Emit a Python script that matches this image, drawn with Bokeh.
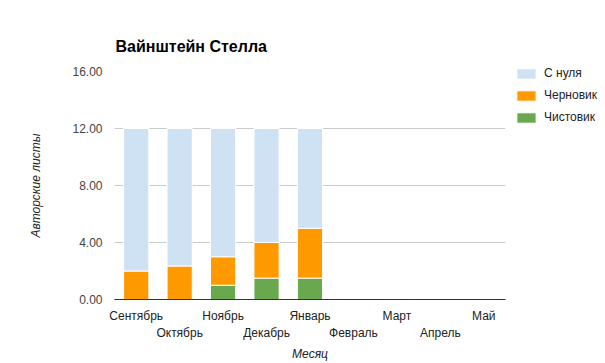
from bokeh.plotting import figure
from bokeh.models import (FactorRange, Range1d, FixedTicker, NumeralTickFormatter,
                          CategoricalAxis, Legend, LegendItem, CustomJSTickFormatter,
                          ColumnDataSource)
from bokeh.embed import file_html
from bokeh.resources import INLINE

months = ["Сентябрь", "Октябрь", "Ноябрь", "Декабрь", "Январь",
          "Февраль", "Март", "Апрель", "Май"]
chistovik = [0, 0, 1, 1.5, 1.5, 0, 0, 0, 0]
chernovik = [2, 2.35, 2, 2.5, 3.5, 0, 0, 0, 0]
s_nulya = [10, 9.65, 9, 8, 7, 0, 0, 0, 0]
series_names = ["Чистовик", "Черновик", "С нуля"]
colors = ["#6aa84f", "#ff9900", "#cfe2f3"]
y_ticks = [0, 4, 8, 12, 16]

FONT = "Liberation Sans"

source = ColumnDataSource(dict(month=months, chist=chistovik, chern=chernovik, snul=s_nulya))

p = figure(x_range=FactorRange(*months, range_padding=0), y_range=Range1d(0, 16),
           frame_width=391, frame_height=228, output_backend="svg", toolbar_location=None,
           min_border_left=114, min_border_right=98, min_border_top=71, min_border_bottom=62)
p.outline_line_color = None
p.background_fill_color = "white"

rs = p.vbar_stack(["chist", "chern", "snul"], x="month", width=0.58, source=source,
                  color=colors, line_color="white", line_width=1)

# title
p.title.text = "Вайнштейн Стелла"
p.title.text_font = FONT
p.title.text_font_size = "16px"
p.title.text_font_style = "bold"
p.title.text_color = "#000000"
p.title.offset = 1
p.title.standoff = 34

# y axis
p.yaxis.ticker = FixedTicker(ticks=y_ticks)
p.yaxis.formatter = NumeralTickFormatter(format="0.00")
p.yaxis.axis_line_color = None
p.yaxis.major_tick_line_color = None
p.yaxis.minor_tick_line_color = None
p.yaxis.major_label_text_font = FONT
p.yaxis.major_label_text_font_size = "12px"
p.yaxis.major_label_text_color = "#444444"
p.yaxis.major_label_standoff = 6
p.yaxis.axis_label = "Авторские листы"
p.yaxis.axis_label_text_font = FONT
p.yaxis.axis_label_text_font_size = "12px"
p.yaxis.axis_label_text_font_style = "italic"
p.yaxis.axis_label_text_color = "#222222"
p.yaxis.axis_label_standoff = 26

p.ygrid.grid_line_color = "#cccccc"
p.xgrid.grid_line_color = None

# x axis: two staggered rows
even_fmt = CustomJSTickFormatter(code="return (index % 2 == 0) ? tick : '';")
odd_fmt = CustomJSTickFormatter(code="return (index % 2 == 1) ? tick : '';")

xa = p.xaxis[0]
xa.formatter = even_fmt
xa.axis_line_color = "#333333"
xa.major_tick_line_color = None
xa.minor_tick_line_color = None
xa.major_label_text_font = FONT
xa.major_label_text_font_size = "12px"
xa.major_label_text_color = "#222222"
xa.major_label_standoff = 3

xa2 = CategoricalAxis(formatter=odd_fmt)
xa2.axis_line_color = None
xa2.major_tick_line_color = None
xa2.minor_tick_line_color = None
xa2.major_label_text_font = FONT
xa2.major_label_text_font_size = "12px"
xa2.major_label_text_color = "#222222"
xa2.major_label_standoff = -6
xa2.axis_label = "Месяц"
xa2.axis_label_text_font = FONT
xa2.axis_label_text_font_size = "12px"
xa2.axis_label_text_font_style = "italic"
xa2.axis_label_text_color = "#222222"
xa2.axis_label_standoff = 4
p.add_layout(xa2, "below")

# legend (top to bottom: С нуля, Черновик, Чистовик)
items = [LegendItem(label=series_names[i], renderers=[rs[i]]) for i in [2, 1, 0]]
legend = Legend(items=items, location=(9, 175), orientation="vertical",
                glyph_width=24, glyph_height=13, label_height=13, spacing=8,
                label_standoff=6, padding=0, margin=0, border_line_color=None,
                background_fill_alpha=0, label_text_font=FONT,
                label_text_font_size="12px", label_text_color="#222222")
p.add_layout(legend, "right")

open("out.html", "w").write(file_html(p, INLINE))
